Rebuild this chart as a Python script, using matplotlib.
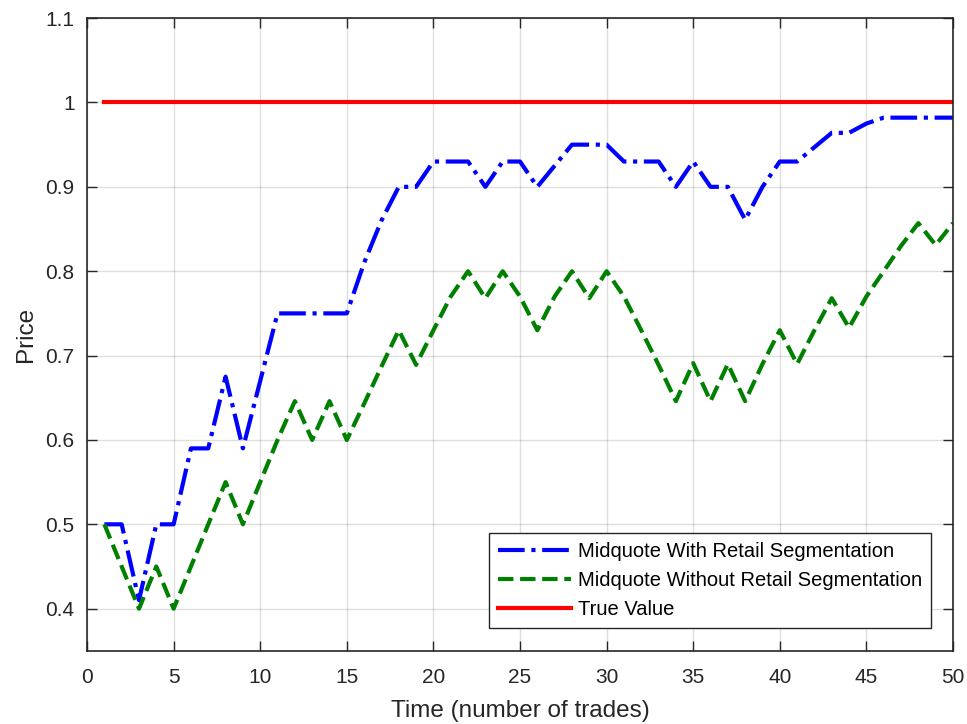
import numpy as np
import matplotlib
matplotlib.use('Agg')
import matplotlib.pyplot as plt

plt.rcParams['font.family'] = ['Liberation Sans', 'DejaVu Sans']

# trade index
trades = list(range(1, 51))

# midquote with retail segmentation
with_seg = [0.5, 0.5, 0.41, 0.5, 0.5, 0.59, 0.59, 0.675, 0.59, 0.67,
            0.75, 0.75, 0.75, 0.75, 0.75, 0.81, 0.86, 0.9, 0.9, 0.93,
            0.93, 0.93, 0.9, 0.93, 0.93, 0.9, 0.925, 0.95, 0.95, 0.95,
            0.93, 0.93, 0.93, 0.9, 0.93, 0.9, 0.9, 0.861, 0.9, 0.93,
            0.93, 0.947, 0.964, 0.964, 0.975, 0.982, 0.982, 0.982, 0.982, 0.982]

# midquote without retail segmentation
without_seg = [0.5, 0.45, 0.4, 0.45, 0.4, 0.45, 0.5, 0.55, 0.5, 0.55,
               0.6, 0.646, 0.6, 0.646, 0.6, 0.643, 0.687, 0.73, 0.689, 0.73,
               0.77, 0.8, 0.768, 0.8, 0.77, 0.73, 0.77, 0.8, 0.768, 0.8,
               0.77, 0.73, 0.689, 0.646, 0.691, 0.646, 0.69, 0.646, 0.69, 0.73,
               0.69, 0.73, 0.768, 0.733, 0.77, 0.8, 0.83, 0.857, 0.831, 0.857]

true_value = [1.0] * 50

x_ticks = list(range(0, 51, 5))
y_ticks = [0.4, 0.5, 0.6, 0.7, 0.8, 0.9, 1.0, 1.1]
y_labels = ['0.4', '0.5', '0.6', '0.7', '0.8', '0.9', '1', '1.1']

axcol = (0.15, 0.15, 0.15)

fig = plt.figure(figsize=(9.67, 7.24), dpi=100)
ax = fig.add_axes([0.09, 0.101, 0.8955, 0.874])

ax.plot(trades, with_seg, '-.', color=(0, 0, 1), lw=3, label='Midquote With Retail Segmentation')
ax.plot(trades, without_seg, '--', color=(0, 0.5, 0), lw=3, label='Midquote Without Retail Segmentation')
ax.plot(trades, true_value, '-', color=(1, 0, 0), lw=3, label='True Value')

ax.set_xlim(0, 50)
ax.set_ylim(0.35, 1.1)
ax.set_xticks(x_ticks)
ax.set_yticks(y_ticks)
ax.set_yticklabels(y_labels)
ax.grid(True, color=(0.15, 0.15, 0.15), alpha=0.15, lw=1)
ax.set_axisbelow(True)

ax.tick_params(direction='in', top=True, right=True, length=7, width=1,
               colors=axcol, labelsize=15)
ax.tick_params(axis='x', pad=12)
ax.tick_params(axis='y', pad=9)
for sp in ax.spines.values():
    sp.set_color(axcol)
    sp.set_linewidth(1.2)

ax.set_xlabel('Time (number of trades)', fontsize=17.5, color=axcol, labelpad=10)
ax.set_ylabel('Price', fontsize=17.5, color=axcol, labelpad=6)

leg = ax.legend(loc='lower right', bbox_to_anchor=(0.9746, 0.036), borderaxespad=0,
                fontsize=14.5, frameon=True, fancybox=False, edgecolor=axcol, framealpha=1,
                handlelength=3.6, borderpad=0.45, labelspacing=0.5, handletextpad=0.35)
leg.get_frame().set_linewidth(1)

fig.savefig('out.png', dpi=100)
